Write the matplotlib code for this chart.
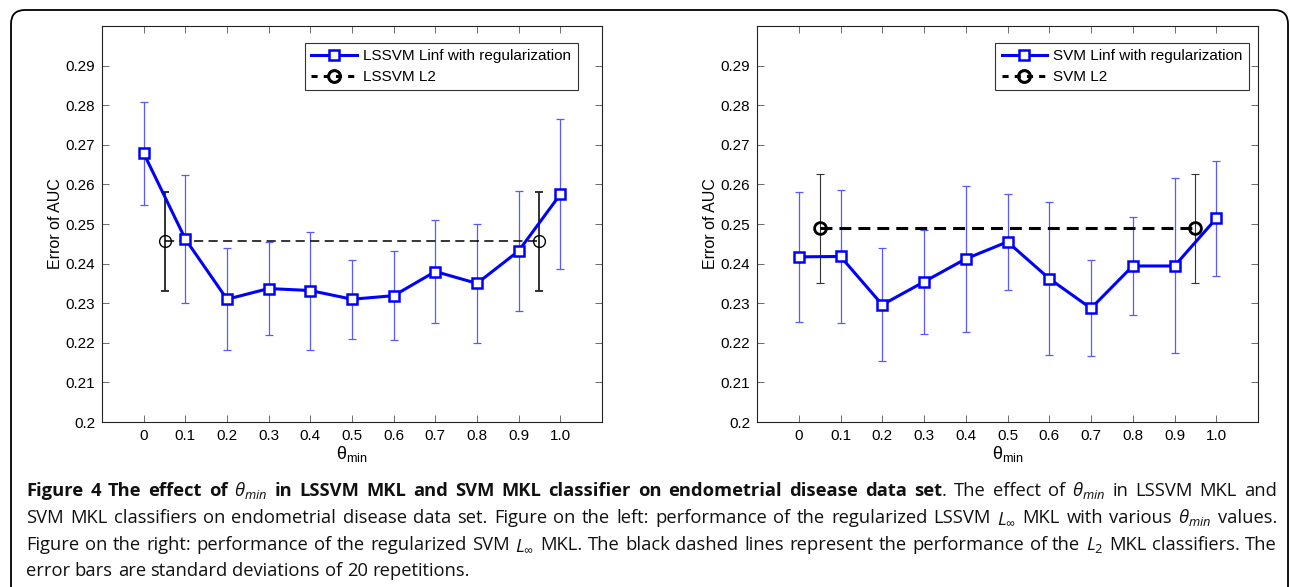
import matplotlib
matplotlib.use('Agg')
import matplotlib.pyplot as plt
from matplotlib.patches import FancyBboxPatch

plt.rcParams['font.family'] = ['Liberation Sans', 'DejaVu Sans']
plt.rcParams['mathtext.fontset'] = 'custom'
plt.rcParams['mathtext.rm'] = 'Open Sans'
plt.rcParams['mathtext.it'] = 'Open Sans:italic'
plt.rcParams['mathtext.bf'] = 'Open Sans:bold'

# data
theta = [0, 0.1, 0.2, 0.3, 0.4, 0.5, 0.6, 0.7, 0.8, 0.9, 1.0]
theta_labels = ['0', '0.1', '0.2', '0.3', '0.4', '0.5', '0.6', '0.7', '0.8', '0.9', '1.0']
y_ticks = [0.20, 0.21, 0.22, 0.23, 0.24, 0.25, 0.26, 0.27, 0.28, 0.29]
y_tick_labels = ['0.2', '0.21', '0.22', '0.23', '0.24', '0.25', '0.26', '0.27', '0.28', '0.29']

lssvm_mean = [0.2679, 0.2462, 0.2310, 0.2337, 0.2332, 0.2310, 0.2319, 0.2380, 0.2350, 0.2432, 0.2575]
lssvm_std = [0.0130, 0.0162, 0.0129, 0.0117, 0.0149, 0.0100, 0.0113, 0.0131, 0.0151, 0.0152, 0.0189]
lssvm_l2_mean = 0.2457
lssvm_l2_std = 0.0125

svm_mean = [0.2417, 0.2418, 0.2296, 0.2354, 0.2412, 0.2455, 0.2362, 0.2287, 0.2394, 0.2394, 0.2514]
svm_std = [0.0165, 0.0169, 0.0143, 0.0131, 0.0184, 0.0122, 0.0194, 0.0121, 0.0123, 0.0221, 0.0145]
svm_l2_mean = 0.2489
svm_l2_std = 0.0137

l2_x = [0.05, 0.95]

W, H = 1290, 587
fig = plt.figure(figsize=(W / 100, H / 100), dpi=100)


def draw_panel(rect, mean, std, l2_mean, l2_std, labels, thick, legend_anchor):
    ax = fig.add_axes(rect)
    ax.errorbar(theta, mean, yerr=std, fmt='none', ecolor=(0.35, 0.35, 1.0), elinewidth=0.9,
                capsize=3, capthick=0.9, zorder=2)
    if thick:
        ax.errorbar(l2_x, [l2_mean] * 2, yerr=l2_std, fmt='none', ecolor='#333333', elinewidth=0.8,
                    capsize=3, capthick=0.8, zorder=2)
        l2_line, = ax.plot(l2_x, [l2_mean] * 2, color='black', lw=2.2, dashes=(3.9, 2.3),
                           marker='o', ms=8.5, mfc='none', mew=2.0, zorder=3)
    else:
        ax.errorbar(l2_x, [l2_mean] * 2, yerr=l2_std, fmt='none', ecolor='#222222', elinewidth=1.3,
                    capsize=3, capthick=1.3, zorder=2)
        l2_line, = ax.plot(l2_x, [l2_mean] * 2, color='black', lw=1.1, dashes=(6, 3.5),
                           marker='o', ms=8.5, mfc='none', mew=1.0, zorder=3)
    inf_line, = ax.plot(theta, mean, color='#0000ff', lw=2.2, marker='s', ms=7.5,
                        mfc='white', mec='#0000ff', mew=1.8, zorder=4)

    # legend uses thick circle like the original
    leg_l2, = ax.plot([], [], color='black', lw=2.2, dashes=(2.0, 2.0), marker='o', ms=8.5,
                      mfc='none', mew=2.2)
    leg = ax.legend([inf_line, leg_l2], labels, loc='upper right', bbox_to_anchor=legend_anchor,
                    borderaxespad=0, fancybox=False, framealpha=1, edgecolor='#333333',
                    fontsize=11, handlelength=3.0, labelspacing=0.45, borderpad=0.4,
                    handletextpad=0.4)
    leg.get_frame().set_linewidth(0.8)

    ax.set_xlim(-0.1, 1.1)
    ax.set_ylim(0.2, 0.3)
    ax.set_xticks(theta)
    ax.set_xticklabels(theta_labels)
    ax.set_yticks(y_ticks)
    ax.set_yticklabels(y_tick_labels)
    ax.tick_params(direction='in', top=True, right=True, length=5, width=0.6,
                   color='#555555', labelsize=11, pad=5)
    for sp in ax.spines.values():
        sp.set_linewidth(0.8)
        sp.set_color('#222222')
    ax.set_ylabel('Error of AUC', fontsize=11.5, labelpad=2)
    ax.set_xlabel(r'$\mathregular{\theta}_{\mathregular{min}}$', fontsize=13, labelpad=1)
    return ax


draw_panel([102 / W, 1 - 422 / H, 500 / W, 396 / H], lssvm_mean, lssvm_std, lssvm_l2_mean,
           lssvm_l2_std, ['LSSVM Linf with regularization', 'LSSVM L2'], False, (0.951, 0.957))
draw_panel([757 / W, 1 - 422 / H, 501 / W, 396 / H], svm_mean, svm_std, svm_l2_mean,
           svm_l2_std, ['SVM Linf with regularization', 'SVM L2'], True, (0.982, 0.957))

# rounded frame around the figure
frame = FancyBboxPatch((0.11, -0.6), 12.77, 6.37, boxstyle='round,pad=0,rounding_size=0.14',
                       transform=fig.dpi_scale_trans, fill=False, lw=1.3, ec='black')
fig.add_artist(frame)

# caption, justified like the journal layout
cap_bold = r'Figure 4 The effect of $\theta_{min}$ in LSSVM MKL and SVM MKL classifier on endometrial disease data set'
cap_rest = r'. The effect of $\theta_{min}$ in LSSVM MKL and'
cap_lines = [
    r'SVM MKL classifiers on endometrial disease data set. Figure on the left: performance of the regularized LSSVM $L_\infty$ MKL with various $\theta_{min}$ values.',
    r'Figure on the right: performance of the regularized SVM $L_\infty$ MKL. The black dashed lines represent the performance of the $L_2$ MKL classifiers. The',
    r'error bars are standard deviations of 20 repetitions.',
]
cap_left, cap_right = 26, 1277
baselines = [496, 523, 550, 576]

words1 = [[(w, 'bold')] for w in cap_bold.split()]
rest = cap_rest.split()
words1[-1].append((rest[0], 'normal'))
words1 += [[(w, 'normal')] for w in rest[1:]]
lines = [words1] + [[[(w, 'normal')] for w in ln.split()] for ln in cap_lines]

renderer = fig.canvas.get_renderer()


def piece_width(s, weight, size):
    t = fig.text(0, 0, s, fontsize=size, fontweight=weight, family='Open Sans')
    w = t.get_window_extent(renderer).width
    t.remove()
    return w


# pick the largest size at which the justified lines still fit with normal spaces
cap_size = 14.5
while cap_size > 9:
    sp = piece_width('a a', 'normal', cap_size) - piece_width('aa', 'normal', cap_size)
    ok = True
    for words in lines[:-1]:
        total = sum(piece_width(s, wt, cap_size) for word in words for s, wt in word)
        if total + sp * (len(words) - 1) > cap_right - cap_left:
            ok = False
    if ok:
        break
    cap_size -= 0.25

space_w = piece_width('a a', 'normal', cap_size) - piece_width('aa', 'normal', cap_size)

for i, (words, base) in enumerate(zip(lines, baselines)):
    widths = [[piece_width(s, wt, cap_size) for s, wt in word] for word in words]
    total = sum(sum(ws) for ws in widths)
    last = i == len(lines) - 1
    gap = space_w if last else (cap_right - cap_left - total) / (len(words) - 1)
    x = cap_left
    for word, ws in zip(words, widths):
        for (s, wt), w in zip(word, ws):
            fig.text(x / W, 1 - base / H, s, fontsize=cap_size, fontweight=wt,
                     family='Open Sans', va='baseline', ha='left', color='#111111')
            x += w
        x += gap

fig.savefig('out.png', dpi=100)
